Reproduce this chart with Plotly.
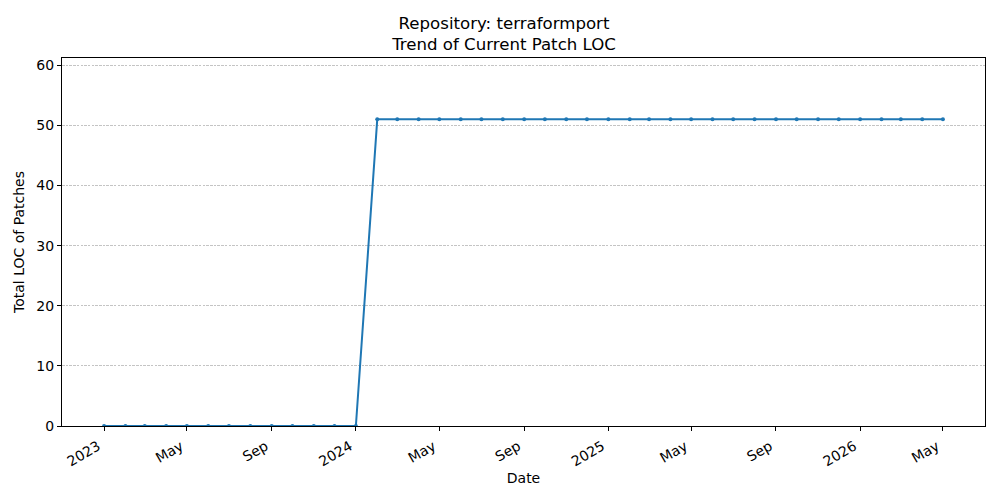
import plotly.graph_objects as go
import pandas as pd

# monthly snapshots of patch LOC
dates = pd.date_range("2023-01-01", "2026-05-01", freq="MS").strftime("%Y-%m-%d").tolist()
loc_values = [0] * 13 + [51] * 28

tick_dates = ["2023-01-01", "2023-05-01", "2023-09-01", "2024-01-01", "2024-05-01",
              "2024-09-01", "2025-01-01", "2025-05-01", "2025-09-01", "2026-01-01",
              "2026-05-01"]
tick_labels = ["2023", "May", "Sep", "2024", "May", "Sep", "2025", "May", "Sep", "2026", "May"]
y_ticks = [0, 10, 20, 30, 40, 50, 60]

fig = go.Figure()
fig.add_trace(go.Scatter(
    x=dates, y=loc_values,
    mode="lines+markers",
    line=dict(color="#1f77b4", width=2),
    marker=dict(color="#1f77b4", size=4),
    showlegend=False,
))

# page body adds an 8px offset, so the figure is slightly smaller than the window
fig.update_layout(
    width=992, height=492,
    margin=dict(l=54, r=15, t=50, b=74),
    paper_bgcolor="white", plot_bgcolor="white",
    font=dict(family="DejaVu Sans", size=14, color="black"),
    title=dict(
        text="Repository: terraformport<br>Trend of Current Patch LOC",
        x=0.5, xanchor="center", y=0.958, yanchor="top",
        font=dict(size=16.6),
    ),
)

fig.update_xaxes(
    type="date",
    range=["2022-11-01", "2026-07-01"],
    tickvals=tick_dates, ticktext=tick_labels, tickangle=-30,
    ticklabelshift=-6, ticklabelstandoff=2,
    ticks="outside", ticklen=4, tickcolor="black",
    showline=True, linecolor="black", linewidth=1, mirror=True,
    showgrid=False, zeroline=False,
    title=dict(text="Date", font=dict(size=14), standoff=4),
)
fig.update_yaxes(
    range=[0, 61.2],
    tickvals=y_ticks,
    ticks="outside", ticklen=4, tickcolor="black",
    showline=True, linecolor="black", linewidth=1, mirror=True,
    showgrid=True, gridcolor="#c4c4c4", griddash="2.5px,1.2px", gridwidth=0.6,
    zeroline=False,
    title=dict(text="Total LOC of Patches", font=dict(size=14), standoff=8),
)

fig.write_html("out.html")
